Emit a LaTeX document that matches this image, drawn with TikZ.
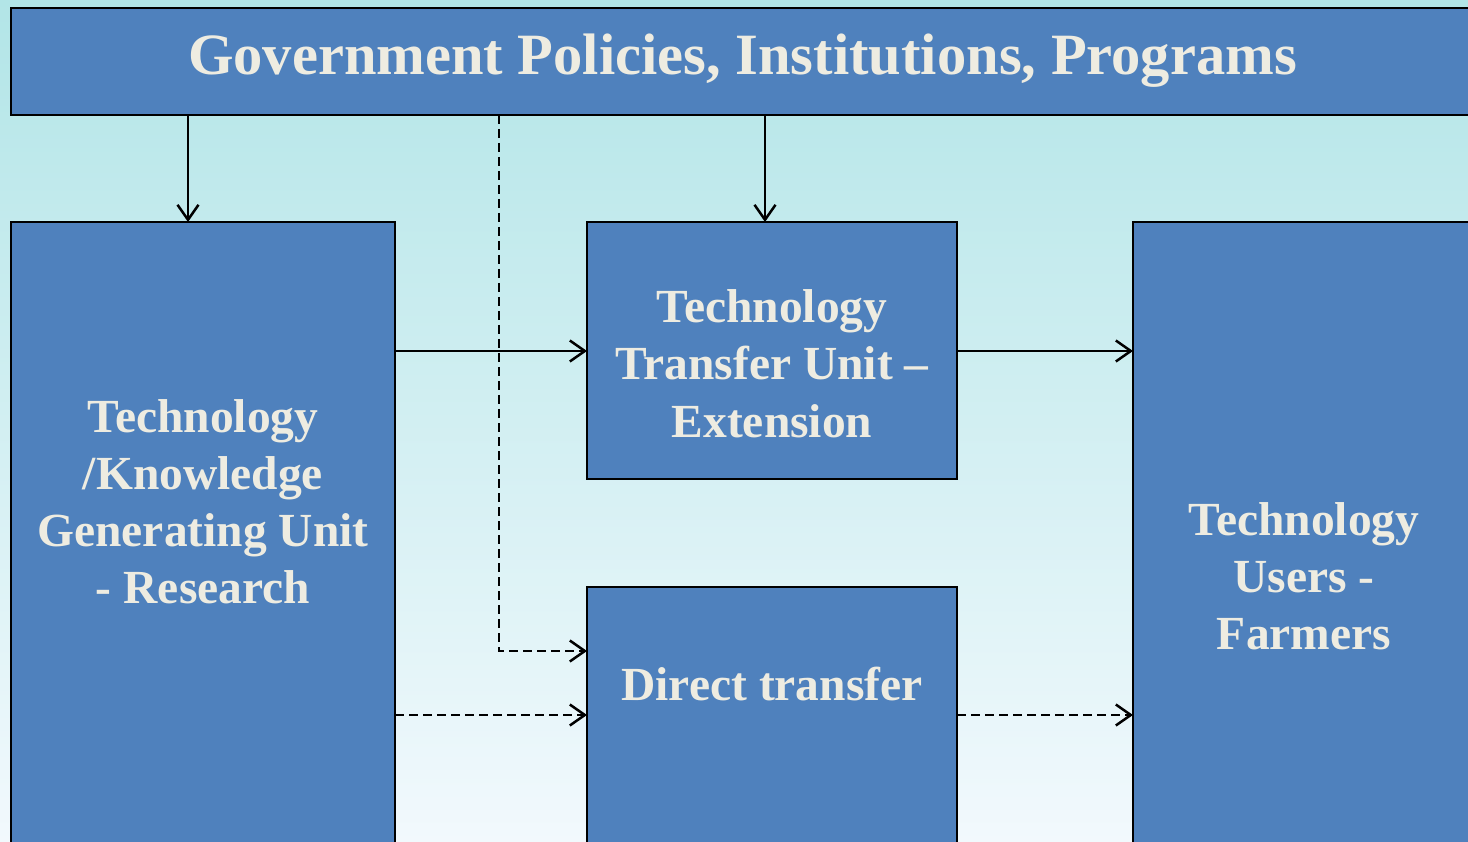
\documentclass[tikz,border=0pt]{standalone}
\usepackage{fontspec}
\setmainfont{Liberation Serif}
\usetikzlibrary{arrows.meta}
\definecolor{boxblue}{HTML}{4F81BD}
\definecolor{boxtext}{HTML}{EEECE1}
\definecolor{skytop}{HTML}{B2E5E7}
\definecolor{skybottom}{HTML}{F2F9FD}
\begin{document}
\begin{tikzpicture}[x=1pt,y=-1pt,
  unitbox/.style={draw=black,line width=2.8pt,fill=boxblue,rectangle,
    outer sep=0pt,inner sep=0pt,anchor=north west},
  boxline/.style={anchor=base,inner sep=0pt,text=boxtext,
    font=\bfseries\fontsize{47.5}{57}\selectfont},
  titleline/.style={anchor=base,inner sep=0pt,text=boxtext,
    font=\bfseries\fontsize{58.5}{70}\selectfont},
  link/.style={line width=2.5pt,-{Straight Barb[length=15pt,width=21pt,line width=2.5pt]}},
  dashlink/.style={link,dash pattern=on 9pt off 5pt}]
  % frame and sky-coloured background
  \useasboundingbox (0,0) rectangle (1468,842);
  \clip (0,0) rectangle (1468,842);
  \shade[top color=skytop,bottom color=skybottom] (0,0) rectangle (1468,842);

  % boxes (some run past the frame)
  \node[unitbox,minimum width=1480pt,minimum height=107pt] (gov) at (11,8) {};
  \node[unitbox,minimum width=384pt,minimum height=660pt] (research) at (11,222) {};
  \node[unitbox,minimum width=370pt,minimum height=257pt] (extension) at (587,222) {};
  \node[unitbox,minimum width=370pt,minimum height=300pt] (direct) at (587,587) {};
  \node[unitbox,minimum width=360pt,minimum height=660pt] (farmers) at (1133,222) {};

  % labels
  \node[titleline] (govT) at (742.5,75) {Government Policies, Institutions, Programs};

  \node[boxline] (resA) at (203,432) {Technology};
  \node[boxline] (resB) at (203,489) {/Knowledge};
  \node[boxline] (resC) at (203,546) {Generating Unit};
  \node[boxline] (resD) at (203,603) {- Research};

  \node[boxline] (extA) at (772,323) {Technology};
  \node[boxline] (extB) at (772,380) {Transfer Unit –};
  \node[boxline] (extC) at (772,437) {Extension};

  \node[boxline] (dirA) at (772,700) {Direct transfer};

  \node[boxline] (farA) at (1304,535) {Technology};
  \node[boxline] (farB) at (1304,592) {Users -};
  \node[boxline] (farC) at (1304,649) {Farmers};

  % anchor points on the box edges
  \coordinate (govL) at (188,115);
  \coordinate (govM) at (499,115);
  \coordinate (govR) at (765,115);
  \coordinate (dirIn) at (587,651);

  % connectors
  \draw[link] (govL) -- (govL |- research.north);
  \draw[link] (govR) -- (govR |- extension.north);
  \draw[link] (research.east |- 0,351) -- (extension.west |- 0,351);
  \draw[link] (extension.east |- 0,351) -- (farmers.west |- 0,351);
  \draw[dashlink] (govM) |- (dirIn);
  \draw[dashlink] (research.east |- 0,715) -- (direct.west |- 0,715);
  \draw[dashlink] (direct.east |- 0,715) -- (farmers.west |- 0,715);
\end{tikzpicture}
\end{document}
